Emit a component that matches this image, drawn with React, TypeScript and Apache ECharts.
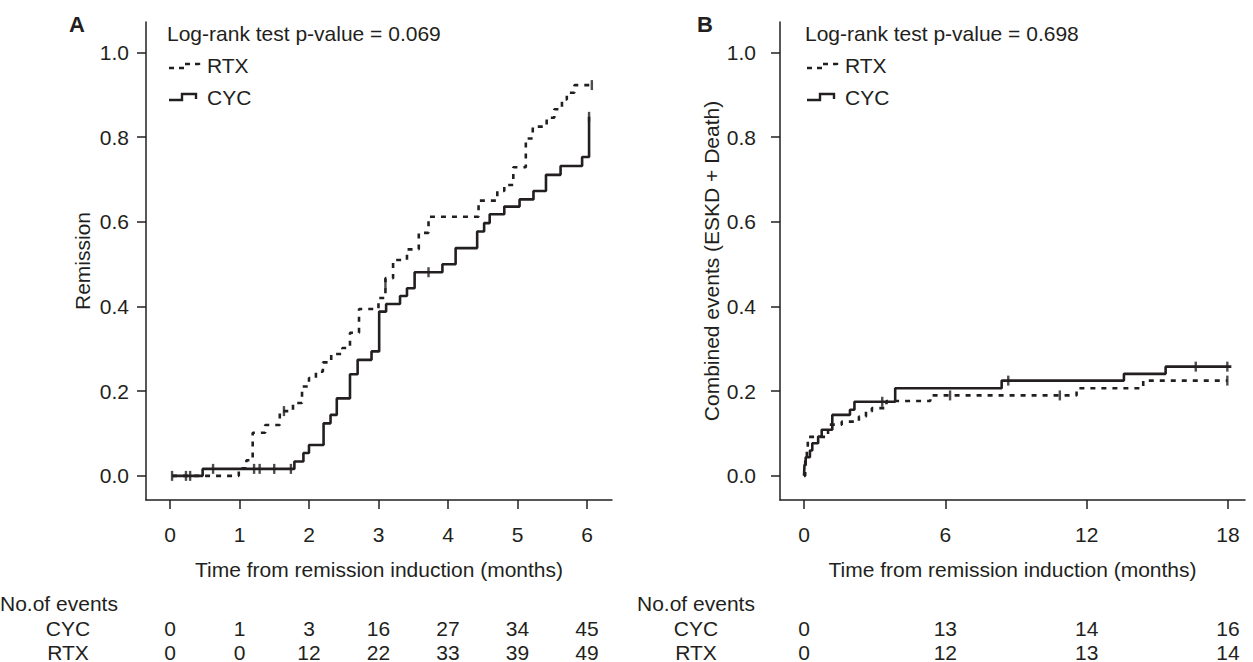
import React, { useEffect, useRef } from "react";
import * as echarts from "echarts";

const FONT = "'Liberation Sans', Arial, Helvetica, sans-serif";
const INK = "#231f20";
const FS = 21;

// ---- Panel A: remission (time in months, cumulative proportion) ----
const aCyc: [number, number][] = [
  [0.03, 0], [0.47, 0.0165], [1.79, 0.034], [1.92, 0.054], [2.0, 0.073], [2.21, 0.124],
  [2.31, 0.144], [2.4, 0.183], [2.59, 0.24], [2.7, 0.274], [2.9, 0.294], [3.01, 0.388],
  [3.11, 0.406], [3.31, 0.425], [3.41, 0.443], [3.52, 0.481], [3.92, 0.5], [4.11, 0.538],
  [4.42, 0.577], [4.52, 0.597], [4.6, 0.618], [4.81, 0.636], [5.03, 0.653], [5.23, 0.673],
  [5.41, 0.711], [5.62, 0.732], [5.93, 0.753], [6.03, 0.848],
];
const aRtx: [number, number][] = [
  [0.03, 0], [0.99, 0.018], [1.1, 0.037], [1.19, 0.102], [1.37, 0.12], [1.58, 0.153],
  [1.77, 0.172], [1.9, 0.211], [2.0, 0.231], [2.1, 0.246], [2.2, 0.268], [2.32, 0.288],
  [2.48, 0.302], [2.59, 0.338], [2.72, 0.394], [3.0, 0.42], [3.1, 0.467], [3.21, 0.51],
  [3.41, 0.535], [3.58, 0.574], [3.72, 0.612], [4.44, 0.65], [4.71, 0.673], [4.81, 0.687],
  [4.94, 0.729], [5.12, 0.797], [5.22, 0.825], [5.42, 0.846], [5.53, 0.866], [5.64, 0.889],
  [5.71, 0.905], [5.82, 0.923], [6.07, 0.923],
];
const aCycCensor: [number, number][] = [
  [0.03, 0], [0.62, 0.0165], [1.21, 0.0165], [1.29, 0.0165], [1.5, 0.0165], [1.74, 0.0165],
  [3.72, 0.481], [6.03, 0.848],
];
const aRtxCensor: [number, number][] = [
  [0.23, 0], [0.29, 0], [1.64, 0.153], [3.1, 0.453], [6.07, 0.923],
];

// ---- Panel B: combined events (ESKD + death) ----
const bCyc: [number, number][] = [
  [0, 0], [0.02, 0.026], [0.07, 0.044], [0.25, 0.06], [0.35, 0.077], [0.6, 0.093],
  [0.75, 0.109], [1.2, 0.144], [1.95, 0.156], [2.14, 0.175], [3.87, 0.207], [8.39, 0.225],
  [13.58, 0.241], [15.35, 0.258], [18.14, 0.258],
];
const bRtx: [number, number][] = [
  [0, 0], [0.05, 0.035], [0.12, 0.06], [0.16, 0.092], [1.02, 0.121], [1.6, 0.128],
  [2.33, 0.14], [2.63, 0.152], [2.88, 0.16], [3.5, 0.177], [5.36, 0.19], [11.57, 0.207],
  [14.4, 0.225], [17.97, 0.225],
];
const bCycCensor: [number, number][] = [[3.32, 0.175], [8.67, 0.225], [16.63, 0.258], [17.97, 0.258]];
const bRtxCensor: [number, number][] = [[6.2, 0.19], [10.86, 0.19], [17.97, 0.225]];

// ---- axes ticks ----
const aXTicks = [0, 1, 2, 3, 4, 5, 6];
const bXTicks = [0, 6, 12, 18];
const yTicks = [0, 0.2, 0.4, 0.6, 0.8, 1.0];

// ---- number of events tables ----
const aCycEvents = [0, 1, 3, 16, 27, 34, 45];
const aRtxEvents = [0, 0, 12, 22, 33, 39, 49];
const bCycEvents = [0, 13, 14, 16];
const bRtxEvents = [0, 12, 13, 14];

const pA = "Log-rank test p-value = 0.069";
const pB = "Log-rank test p-value = 0.698";
const xTitle = "Time from remission induction (months)";

function xAxisCfg(grid: number, min: number, max: number, ticks: number[]) {
  return {
    gridIndex: grid,
    type: "value",
    min,
    max,
    axisLine: { show: true, onZero: false, lineStyle: { color: INK, width: 1.5 } },
    axisTick: { show: true, customValues: ticks, length: 9, lineStyle: { color: INK, width: 1.5 } },
    axisLabel: { customValues: ticks, color: INK, fontSize: FS, fontFamily: FONT, margin: 24 },
    splitLine: { show: false },
    name: xTitle,
    nameLocation: "middle",
    nameGap: 59,
    nameTextStyle: { color: INK, fontSize: FS, fontFamily: FONT },
  };
}
function yAxisCfg(grid: number, name: string, margin: number, gap: number) {
  return {
    gridIndex: grid,
    type: "value",
    min: -0.057,
    max: 1.072,
    axisLine: { show: true, onZero: false, lineStyle: { color: INK, width: 1.5 } },
    axisTick: { show: true, customValues: yTicks, length: 9, lineStyle: { color: INK, width: 1.5 } },
    axisLabel: {
      customValues: yTicks,
      color: INK,
      fontSize: FS,
      fontFamily: FONT,
      margin,
      formatter: (v: number) => v.toFixed(1),
    },
    splitLine: { show: false },
    name,
    nameLocation: "middle",
    nameGap: gap,
    nameTextStyle: { color: INK, fontSize: FS, fontFamily: FONT },
  };
}
function stepSeries(idx: number, data: [number, number][], dashed: boolean) {
  return {
    type: "line",
    xAxisIndex: idx,
    yAxisIndex: idx,
    data,
    step: "end",
    showSymbol: false,
    symbol: "none",
    lineStyle: { color: INK, width: 2.6, type: dashed ? [5, 6] : "solid", cap: "butt" },
    z: 3,
  };
}
function censorSeries(idx: number, data: [number, number][]) {
  return {
    type: "scatter",
    xAxisIndex: idx,
    yAxisIndex: idx,
    data,
    symbol: "rect",
    symbolSize: [2.4, 10],
    itemStyle: { color: INK },
    z: 4,
  };
}

export default function App() {
  const ref = useRef<HTMLDivElement>(null);
  useEffect(() => {
    const chart = echarts.init(ref.current!, null, { renderer: "svg" });
    chart.setOption({
      animation: false,
      backgroundColor: "#ffffff",
      textStyle: { fontFamily: FONT },
      grid: [
        { left: 146, top: 22, width: 466, height: 478 },
        { left: 780, top: 22, width: 465, height: 478 },
      ],
      xAxis: [xAxisCfg(0, -0.345, 6.36, aXTicks), xAxisCfg(1, -1.02, 18.72, bXTicks)],
      yAxis: [yAxisCfg(0, "Remission", 17, 53), yAxisCfg(1, "Combined events (ESKD + Death)", 24, 58)],
      series: [
        stepSeries(0, aRtx, true),
        stepSeries(0, aCyc, false),
        censorSeries(0, aRtxCensor),
        censorSeries(0, aCycCensor),
        stepSeries(1, bRtx, true),
        stepSeries(1, bCyc, false),
        censorSeries(1, bRtxCensor),
        censorSeries(1, bCycCensor),
      ],
    });

    const txt = (x: number, y: number, s: string, align = "left", bold = false, size = FS) => ({
      type: "text",
      x,
      y,
      style: {
        text: s,
        fill: INK,
        font: `${bold ? "bold " : ""}${size}px ${FONT}`,
        align,
        verticalAlign: "middle",
      },
    });
    const legend = (x0: number, title: string) => [
      txt(x0, 33, title),
      {
        type: "polyline",
        shape: { points: [[x0 + 2, 68], [x0 + 18, 68], [x0 + 18, 64], [x0 + 32, 64], [x0 + 32, 67]] },
        style: { stroke: INK, lineWidth: 2.4, lineDash: [5, 5], fill: null },
      },
      txt(x0 + 40, 65, "RTX"),
      {
        type: "polyline",
        shape: { points: [[x0 + 2, 100], [x0 + 15, 100], [x0 + 15, 94], [x0 + 29, 94], [x0 + 29, 99]] },
        style: { stroke: INK, lineWidth: 2.4, fill: null },
      },
      txt(x0 + 40, 97, "CYC"),
    ];
    const table = (idx: number, ticks: number[], cyc: number[], rtx: number[], x0: number, lx: number) => {
      const out: any[] = [txt(x0, 603, "No.of events"), txt(lx, 628, "CYC", "center"), txt(lx, 652, "RTX", "center")];
      ticks.forEach((t, i) => {
        const px = chart.convertToPixel({ xAxisIndex: idx }, t) as number;
        out.push(txt(px, 628, String(cyc[i]), "center"));
        out.push(txt(px, 652, String(rtx[i]), "center"));
      });
      return out;
    };
    chart.setOption({
      graphic: [
        txt(69, 24, "A", "left", true, 22),
        txt(697, 24, "B", "left", true, 22),
        ...legend(167, pA),
        ...legend(805, pB),
        ...table(0, aXTicks, aCycEvents, aRtxEvents, 0, 68),
        ...table(1, bXTicks, bCycEvents, bRtxEvents, 637, 696),
      ],
    });
    return () => chart.dispose();
  }, []);
  return (
    <div
      ref={ref}
      style={{ position: "fixed", left: 0, top: 0, width: 1253, height: 662, background: "#fff" }}
    />
  );
}
